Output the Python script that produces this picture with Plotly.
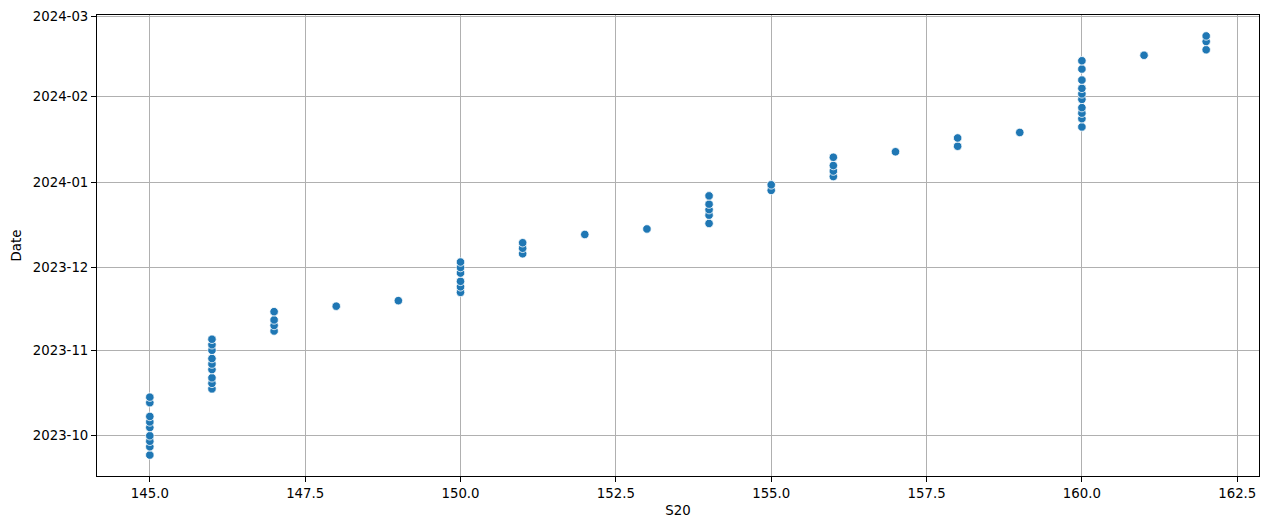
import plotly.graph_objects as go

s20 = [145]*9 + [146]*9 + [147]*4 + [148, 149] + [150]*6 + [151]*3 + [152, 153] + [154]*5 + [155]*2 + [156]*4 + [157] + [158]*2 + [159] + [160]*10 + [161] + [162]*3

dates = [
    # 145
    "2023-09-24", "2023-09-27", "2023-09-29", "2023-10-01", "2023-10-04", "2023-10-06", "2023-10-08", "2023-10-13", "2023-10-15",
    # 146
    "2023-10-18", "2023-10-20", "2023-10-22", "2023-10-25", "2023-10-27", "2023-10-29", "2023-11-01", "2023-11-03", "2023-11-05",
    # 147
    "2023-11-08", "2023-11-10", "2023-11-12", "2023-11-15",
    # 148, 149
    "2023-11-17", "2023-11-19",
    # 150
    "2023-11-22", "2023-11-24", "2023-11-26", "2023-11-29", "2023-12-01", "2023-12-03",
    # 151
    "2023-12-06", "2023-12-08", "2023-12-10",
    # 152, 153
    "2023-12-13", "2023-12-15",
    # 154
    "2023-12-17", "2023-12-20", "2023-12-22", "2023-12-24", "2023-12-27",
    # 155
    "2023-12-29", "2023-12-31",
    # 156
    "2024-01-03", "2024-01-05", "2024-01-07", "2024-01-10",
    # 157
    "2024-01-12",
    # 158
    "2024-01-14", "2024-01-17",
    # 159
    "2024-01-19",
    # 160
    "2024-01-21", "2024-01-24", "2024-01-26", "2024-01-28", "2024-01-31", "2024-02-02", "2024-02-04", "2024-02-07", "2024-02-11", "2024-02-14",
    # 161
    "2024-02-16",
    # 162
    "2024-02-18", "2024-02-21", "2024-02-23",
]

x_range = [144.15, 162.85]
y_range = ["2023-09-16 09:36", "2024-03-01 14:24"]

fig = go.Figure(go.Scatter(
    x=s20, y=dates, mode="markers",
    marker=dict(color="#1f77b4", size=8.5, line=dict(color="white", width=0.8)),
))

axis_common = dict(
    showline=True, mirror=True, linecolor="black", linewidth=1,
    ticks="outside", ticklen=5, tickcolor="black", tickwidth=1,
    showgrid=True, gridcolor="#b0b0b0", gridwidth=1, zeroline=False,
    automargin=False,
    tickfont=dict(family="DejaVu Sans", size=13.3, color="black"),
)

# page body has an 8px margin; compensate so the plot area lands where the reference has it
fig.update_layout(
    width=1261, height=521,
    margin=dict(l=89, r=10, t=7, b=53),
    paper_bgcolor="white", plot_bgcolor="white",
    showlegend=False,
    font=dict(family="DejaVu Sans", size=13, color="black"),
    xaxis=dict(range=x_range, tick0=145, dtick=2.5, tickformat=".1f",
               title=dict(text="S20", font=dict(size=13.3), standoff=5), **axis_common),
    yaxis=dict(range=y_range, type="date", dtick="M1", tick0="2023-10-01", tickformat="%Y-%m",
               title=dict(text="Date", font=dict(size=13.3), standoff=8), **axis_common),
)

fig.write_html("out.html")
